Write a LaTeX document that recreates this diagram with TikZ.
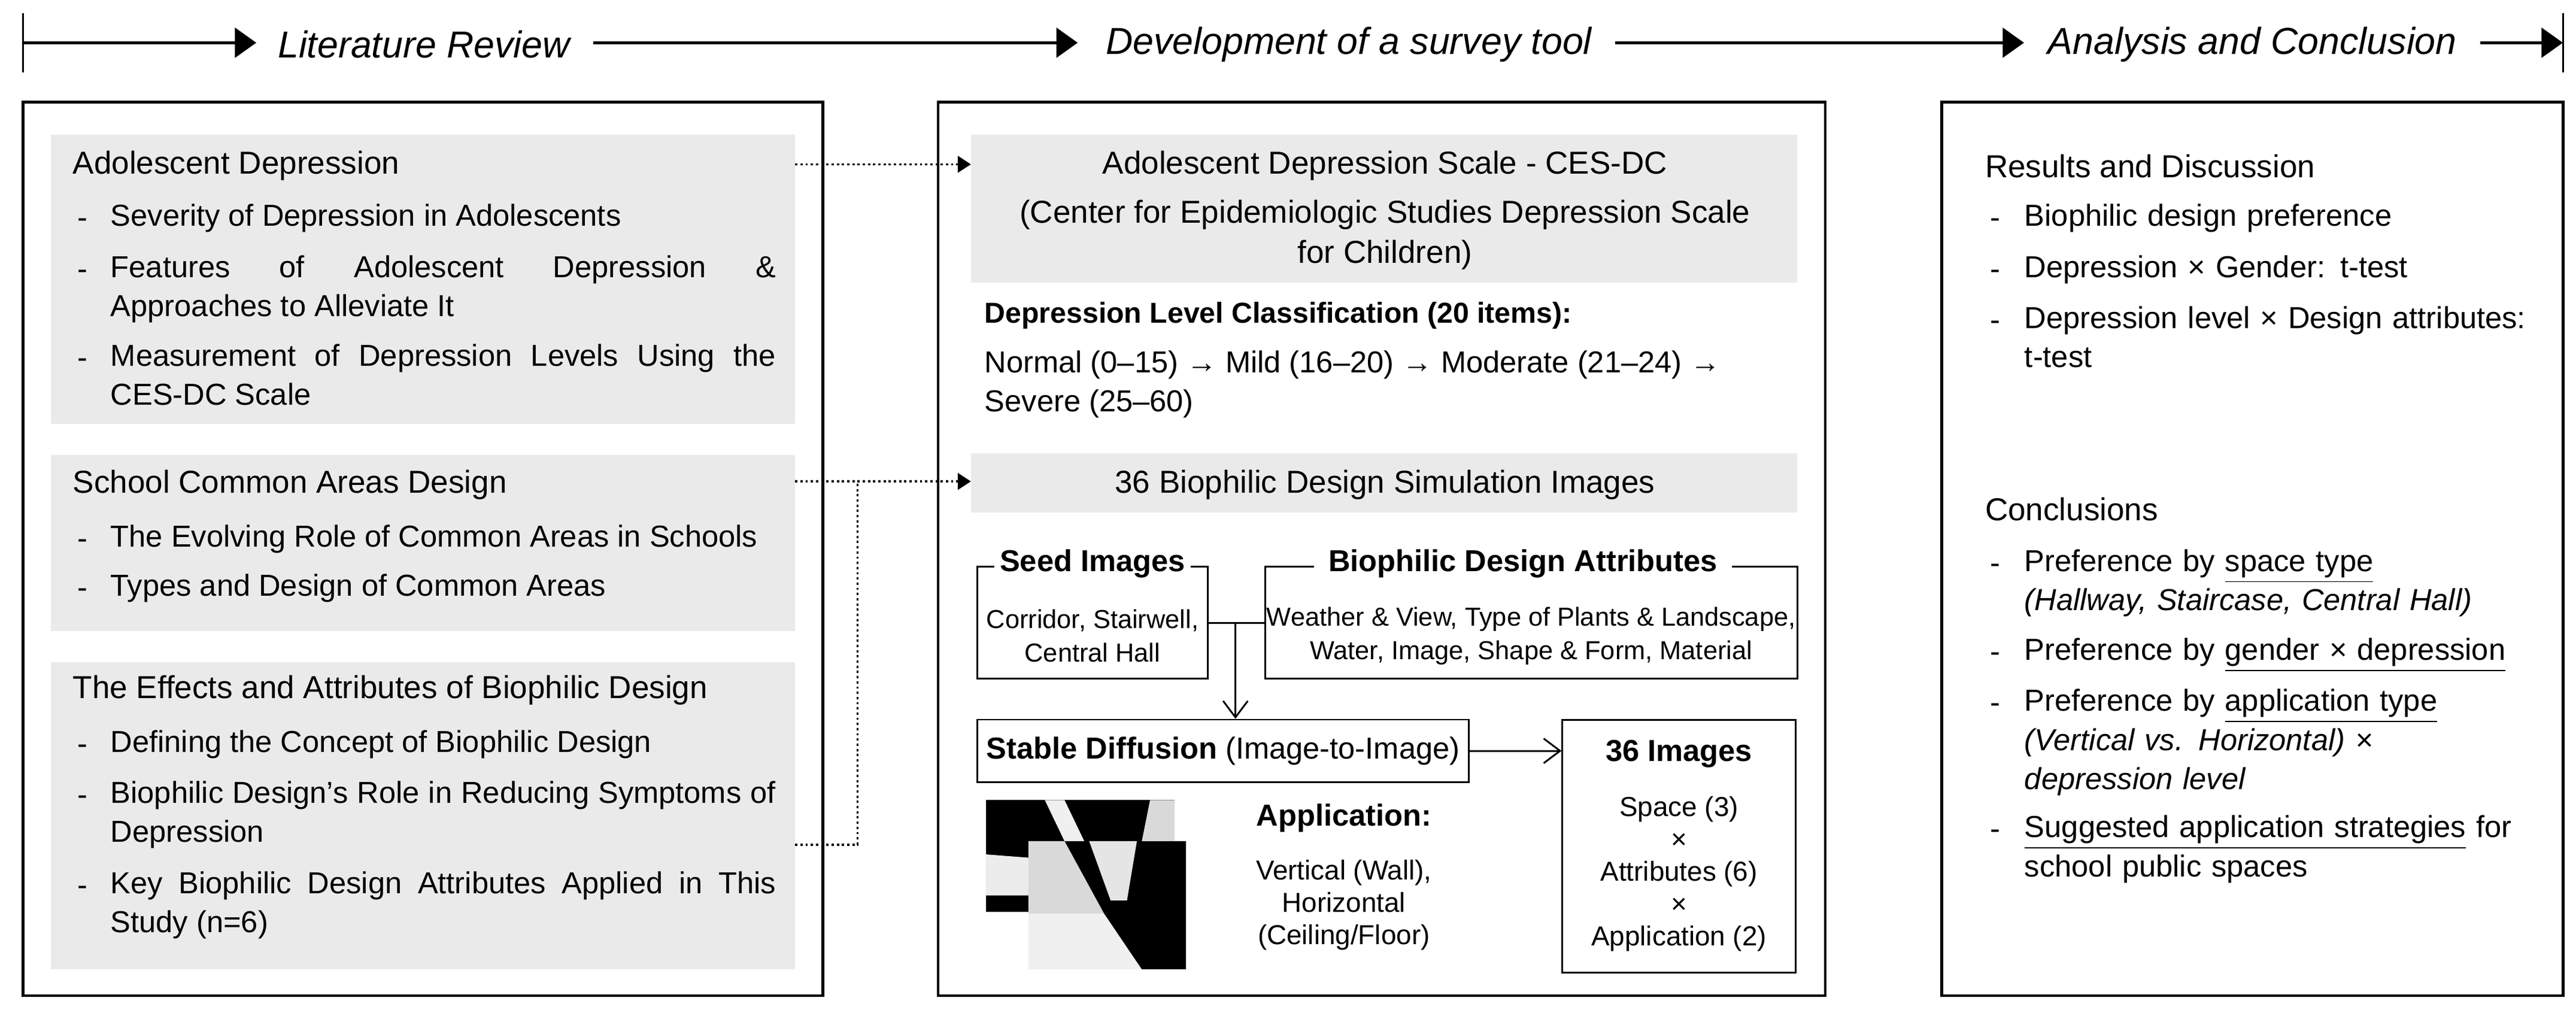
\documentclass[tikz,border=0pt]{standalone}
\usepackage{fontspec}
\setmainfont{Liberation Sans}
\usepackage{xcolor}
\usetikzlibrary{arrows.meta,positioning}
\definecolor{panelgray}{RGB}{234,234,234}

\begin{document}
\begin{tikzpicture}[
    x=0.02cm, y=-0.02cm,
    stage/.style={font=\fontsize{13}{16}\selectfont\itshape, inner sep=0pt},
    flow/.style={line width=1.1pt, -{Triangle[length=0.26cm, width=0.36cm]}},
    panel/.style={draw=black, line width=1pt},
    graybox/.style={fill=panelgray, draw=none},
    hd/.style={font=\fontsize{11}{14}\selectfont, anchor=west, inner sep=0pt},
    bdash/.style={font=\fontsize{10.5}{13.6}\selectfont, anchor=west, yshift=-0.1cm, inner sep=0pt},
    bl/.style={font=\fontsize{10.5}{13.6}\selectfont, anchor=north west, yshift=-0.1cm, inner sep=0pt, text width=8.1cm, align=justify},
    rbl/.style={font=\fontsize{10.5}{13.6}\selectfont, anchor=north west, yshift=-0.1cm, inner sep=0pt, text width=6.3cm, align=left},
    sm/.style={font=\fontsize{9}{11.5}\selectfont, align=center, inner sep=0pt},
    bx/.style={draw=black, line width=0.6pt},
    dotlink/.style={densely dotted, line width=0.8pt},
    open/.style={line width=0.6pt, -{Straight Barb[length=0.2cm, width=0.3cm]}}
]
\useasboundingbox (0,0) rectangle (1568,620);

% Timeline
\coordinate (t0) at (14,26);
\draw[line width=0.6pt] (14,8) -- (14,44);
\draw[line width=0.6pt] (1560,8) -- (1560,44);
\node[stage] (s1) at (258,27) {Literature Review};
\node[stage] (s2) at (821,27) {Development of a survey tool};
\node[stage] (s3) at (1371,27) {Analysis and Conclusion};
\coordinate (a1) at (156,26);
\coordinate (a2) at (656,26);
\coordinate (a3) at (1232,26);
\coordinate (a4) at (1560,26);
\draw[flow] (t0) -- (a1);
\draw[flow] (s1.east)++(14,-1) -- (a2);
\draw[flow] (s2.east)++(14,-1) -- (a3);
\draw[flow] (s3.east)++(14,-1) -- (a4);

% Panels
\draw[panel] (14,62) rectangle (501,606);
\draw[panel] (571,62) rectangle (1111,606);
\draw[panel] (1182,62) rectangle (1560,606);

% Left column
\fill[graybox] (31,82) rectangle (484,258);
\fill[graybox] (31,277) rectangle (484,384);
\fill[graybox] (31,403) rectangle (484,590);

\node[hd] (h1) at (44,101) {Adolescent Depression};
\node[bdash] at (47,131) {-};
\node[bl] at (67,119) {Severity of Depression in Adolescents};
\node[bdash] at (47,162) {-};
\node[bl] at (67,150) {Features of Adolescent Depression \&\linebreak Approaches to Alleviate It};
\node[bdash] at (47,216) {-};
\node[bl] at (67,204) {Measurement of Depression Levels Using the\linebreak CES-DC Scale};

\node[hd] (h2) at (44,295) {School Common Areas Design};
\node[bdash] at (47,326) {-};
\node[bl] at (67,314) {The Evolving Role of Common Areas in Schools};
\node[bdash] at (47,356) {-};
\node[bl] at (67,344) {Types and Design of Common Areas};

\node[hd] (h3) at (44,420) {The Effects and Attributes of Biophilic Design};
\node[bdash] at (47,451) {-};
\node[bl] at (67,439) {Defining the Concept of Biophilic Design};
\node[bdash] at (47,482) {-};
\node[bl] at (67,470) {Biophilic Design's Role in Reducing Symptoms of\linebreak Depression};
\node[bdash] at (47,537) {-};
\node[bl] at (67,525) {Key Biophilic Design Attributes Applied in This\linebreak Study (n=6)};

% Middle column
\fill[graybox] (591,82) rectangle (1094,172);
\node[font=\fontsize{11}{14}\selectfont, inner sep=0pt] (ces) at (843,101) {Adolescent Depression Scale - CES-DC};
\node[font=\fontsize{11}{14}\selectfont, align=center, inner sep=0pt] (cesd) at (843,143) {(Center for Epidemiologic Studies Depression Scale\\for Children)};
\node[font=\fontsize{10}{13}\selectfont\bfseries, anchor=west, inner sep=0pt] (lvl) at (599,192) {Depression Level Classification (20 items):};
\node[font=\fontsize{10.5}{13.6}\selectfont, anchor=north west, inner sep=0pt, align=left] (lvls) at (599,213) {Normal (0–15) → Mild (16–20) → Moderate (21–24) →\\Severe (25–60)};

\fill[graybox] (591,276) rectangle (1094,312);
\node[font=\fontsize{11}{14}\selectfont, inner sep=0pt] (sim) at (843,295) {36 Biophilic Design Simulation Images};

\draw[bx] (595,345) rectangle (735,413);
\node[sm] (seed) at (665,387) {Corridor, Stairwell,\\Central Hall};
\node[font=\fontsize{10.5}{13}\selectfont\bfseries, fill=white, inner sep=2pt] (seedt) at (665,343) {Seed Images};
\draw[bx] (770,345) rectangle (1094,413);
\node[sm] (attr) at (932,387) {Weather \& View, Type of Plants \& Landscape,\\Water, Image, Shape \& Form, Material};
\node[font=\fontsize{10.5}{13}\selectfont\bfseries, fill=white, inner sep=5pt] (attrt) at (927,343) {Biophilic Design Attributes};

\node[bx, minimum width=5.98cm, minimum height=0.76cm, inner sep=0pt, font=\fontsize{10.5}{13}\selectfont] (sd) at (744.5,457) {\textbf{Stable Diffusion} (Image-to-Image)};
\node[bx, minimum width=2.84cm, minimum height=3.08cm, inner sep=0pt] (img) at (1022,515) {};
\node[font=\fontsize{10.5}{13}\selectfont\bfseries, inner sep=0pt] (imgt) at (1022,459) {36 Images};
\node[sm, font=\fontsize{9.5}{11.2}\selectfont] (imgc) at (1022,532) {Space (3)\\×\\Attributes (6)\\×\\Application (2)};

\coordinate (j) at (752,379);
\draw[line width=0.6pt] (735,379) -- (770,379);
\draw[open] (j) -- (sd.north -| j);
\draw[open] (sd.east) -- (img.west |- sd.east);

% Photo
\fill[black] (600,487) rectangle (715,555);
\fill[white!88!gray] (636,487) -- (648,487) -- (660,512) -- (648,512) -- cycle;
\fill[white!85!gray] (600,520) -- (626,522) -- (626,545) -- (600,545) -- cycle;
\fill[gray!30] (700,487) -- (715,487) -- (715,512) -- (695,512) -- cycle;
\fill[black] (626,512) rectangle (722,590);
\fill[gray!30] (626,512) -- (648,512) -- (672,556) -- (626,556) -- cycle;
\fill[white!88!gray] (626,556) -- (672,556) -- (695,590) -- (626,590) -- cycle;
\fill[gray!20] (663,512) -- (692,512) -- (686,548) -- (676,548) -- cycle;
\node[font=\fontsize{10.5}{13}\selectfont\bfseries, inner sep=0pt] (appt) at (818,498) {Application:};
\node[sm, font=\fontsize{9.5}{11.2}\selectfont] (app) at (818,551) {Vertical (Wall),\\Horizontal\\(Ceiling/Floor)};

% Dotted links
\coordinate (k) at (522,293);
\draw[dotlink, -{Triangle[length=0.16cm, width=0.2cm]}] (484,100) -- (591,100);
\draw[dotlink, -{Triangle[length=0.16cm, width=0.2cm]}] (484,293) -- (591,293);
\draw[dotlink] (484,514) -- (522,514) -- (k);

% Right column
\node[hd] (res) at (1208,101) {Results and Discussion};
\node[bdash] at (1211,131) {-};
\node[rbl] at (1232,119) {Biophilic design preference};
\node[bdash] at (1211,162) {-};
\node[rbl] at (1232,150) {Depression × Gender: t-test};
\node[bdash] at (1211,193) {-};
\node[rbl] at (1232,181) {Depression level × Design attributes:\\t-test};

\node[hd] (con) at (1208,310) {Conclusions};
\node[bdash] at (1211,341) {-};
\node[rbl] at (1232,329) {Preference by \underline{space type}\\\textit{(Hallway, Staircase, Central Hall)}};
\node[bdash] at (1211,395) {-};
\node[rbl] at (1232,383) {Preference by \underline{gender × depression}};
\node[bdash] at (1211,426) {-};
\node[rbl] at (1232,414) {Preference by \underline{application type}\\\textit{(Vertical vs. Horizontal) ×}\\\textit{depression level}};
\node[bdash] at (1211,503) {-};
\node[rbl] at (1232,491) {\underline{Suggested application strategies} for\\school public spaces};

\end{tikzpicture}
\end{document}
